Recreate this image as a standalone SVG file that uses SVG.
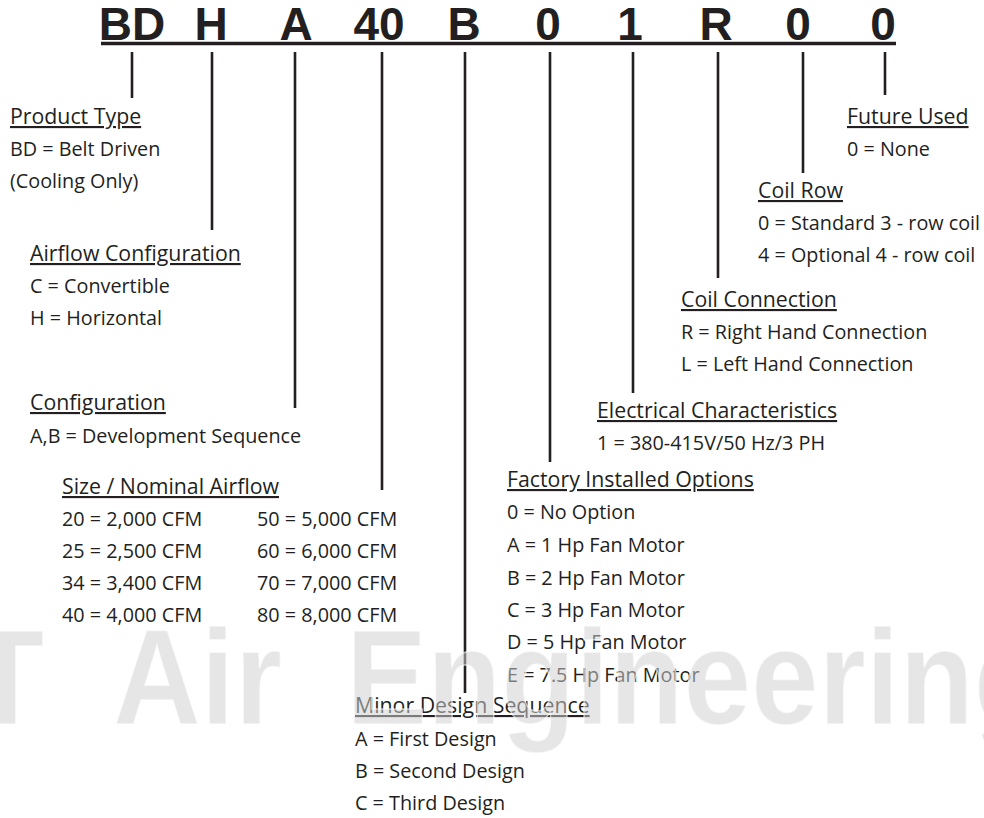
<svg xmlns="http://www.w3.org/2000/svg" width="984" height="818" viewBox="0 0 984 818">
<style>
.code{font-family:"Liberation Sans",Arial,sans-serif;font-weight:bold;font-size:46px;fill:#231f20;text-anchor:middle}
.t{font-family:"Open Sans","Noto Sans",sans-serif;font-size:19.8px;fill:#231f20}
.h{font-size:21.3px;text-decoration:underline}
.conn line{stroke:#231f20;stroke-width:2.6}
.wm{font-family:"Liberation Sans",Arial,sans-serif;font-weight:bold;font-size:135px;fill:#cfcfcf;fill-opacity:0.52;stroke:#ffffff;stroke-opacity:0.6;stroke-width:1.5}
</style>
<rect width="984" height="818" fill="#ffffff"/>
<g id="model-code">
<line x1="101" y1="43.5" x2="896" y2="43.5" stroke="#231f20" stroke-width="3.5"/>
<text class="code" x="132" y="40">BD</text>
<text class="code" x="211" y="40">H</text>
<text class="code" x="296" y="40">A</text>
<text class="code" x="379" y="40">40</text>
<text class="code" x="464" y="40">B</text>
<text class="code" x="548" y="40">0</text>
<text class="code" x="630" y="40">1</text>
<text class="code" x="716" y="40">R</text>
<text class="code" x="798" y="40">0</text>
<text class="code" x="883" y="40">0</text>
</g>
<g id="connectors" class="conn">
<line x1="132" y1="52" x2="132" y2="98"/>
<line x1="212" y1="52" x2="212" y2="230"/>
<line x1="295" y1="52" x2="295" y2="408"/>
<line x1="382" y1="52" x2="382" y2="490"/>
<line x1="465" y1="52" x2="465" y2="693"/>
<line x1="550" y1="52" x2="550" y2="462"/>
<line x1="633" y1="52" x2="633" y2="393"/>
<line x1="718" y1="52" x2="718" y2="278"/>
<line x1="803" y1="52" x2="803" y2="173"/>
<line x1="885" y1="52" x2="885" y2="95"/>
</g>
<g id="product-type">
<text class="t h" x="10" y="124">Product Type</text>
<text class="t" x="10" y="156">BD = Belt Driven</text>
<text class="t" x="10" y="188">(Cooling Only)</text>
</g>
<g id="airflow-configuration">
<text class="t h" x="30" y="261">Airflow Configuration</text>
<text class="t" x="30" y="293">C = Convertible</text>
<text class="t" x="30" y="325">H = Horizontal</text>
</g>
<g id="configuration">
<text class="t h" x="30" y="410">Configuration</text>
<text class="t" x="30" y="443">A,B = Development Sequence</text>
</g>
<g id="size-nominal-airflow">
<text class="t h" x="62" y="494">Size / Nominal Airflow</text>
<text class="t" x="62" y="526">20 = 2,000 CFM</text>
<text class="t" x="62" y="558">25 = 2,500 CFM</text>
<text class="t" x="62" y="590">34 = 3,400 CFM</text>
<text class="t" x="62" y="622">40 = 4,000 CFM</text>
<text class="t" x="257" y="526">50 = 5,000 CFM</text>
<text class="t" x="257" y="558">60 = 6,000 CFM</text>
<text class="t" x="257" y="590">70 = 7,000 CFM</text>
<text class="t" x="257" y="622">80 = 8,000 CFM</text>
</g>
<g id="future-used">
<text class="t h" x="847" y="124">Future Used</text>
<text class="t" x="847" y="156">0 = None</text>
</g>
<g id="coil-row">
<text class="t h" x="758" y="198">Coil Row</text>
<text class="t" x="758" y="230">0 = Standard 3 - row coil</text>
<text class="t" x="758" y="262">4 = Optional 4 - row coil</text>
</g>
<g id="coil-connection">
<text class="t h" x="681" y="307">Coil Connection</text>
<text class="t" x="681" y="339">R = Right Hand Connection</text>
<text class="t" x="681" y="371">L = Left Hand Connection</text>
</g>
<g id="electrical-characteristics">
<text class="t h" x="597" y="418">Electrical Characteristics</text>
<text class="t" x="597" y="450">1 = 380-415V/50 Hz/3 PH</text>
</g>
<g id="factory-installed-options">
<text class="t h" x="507" y="487">Factory Installed Options</text>
<text class="t" x="507" y="519">0 = No Option</text>
<text class="t" x="507" y="552">A = 1 Hp Fan Motor</text>
<text class="t" x="507" y="585">B = 2 Hp Fan Motor</text>
<text class="t" x="507" y="617">C = 3 Hp Fan Motor</text>
<text class="t" x="507" y="649">D = 5 Hp Fan Motor</text>
<text class="t" x="507" y="682">E = 7.5 Hp Fan Motor</text>
</g>
<g id="minor-design-sequence">
<text class="t h" x="355" y="713">Minor Design Sequence</text>
<text class="t" x="355" y="746">A = First Design</text>
<text class="t" x="355" y="778">B = Second Design</text>
<text class="t" x="355" y="810">C = Third Design</text>
</g>
<g id="watermark">
<text class="wm" x="-30" y="724" textLength="74" lengthAdjust="spacingAndGlyphs">T</text>
<text class="wm" x="113" y="724" textLength="169" lengthAdjust="spacingAndGlyphs">Air</text>
<text class="wm" x="346" y="724" textLength="702" lengthAdjust="spacingAndGlyphs">Engineering</text>
</g>
</svg>
